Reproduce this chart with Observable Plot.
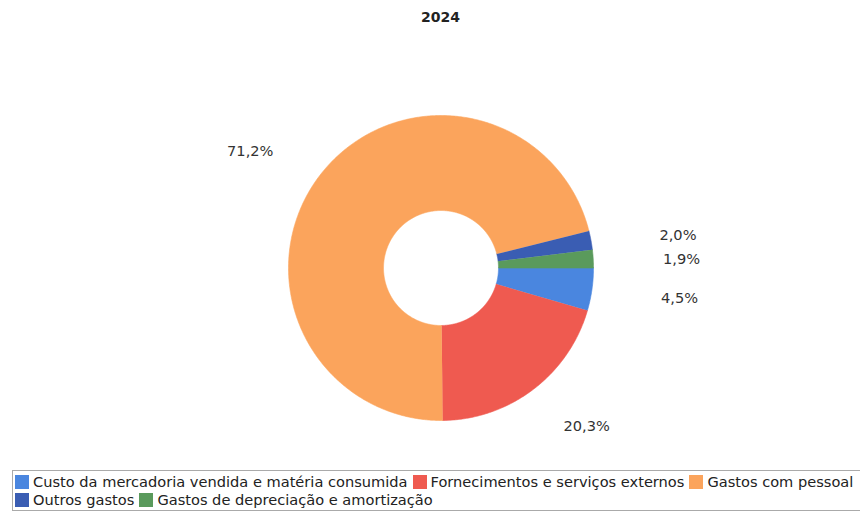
<!DOCTYPE html>
<html>
<head>
<meta charset="utf-8">
<script src="https://cdn.jsdelivr.net/npm/d3@7"></script>
<script src="https://cdn.jsdelivr.net/npm/@observablehq/plot@0.6"></script>
<style>
  html, body { margin: 0; padding: 0; background: #fff; overflow: hidden; width: 860px; height: 514px; }
  body { font-family: "DejaVu Sans", sans-serif; position: relative; }
  #title { position: absolute; left: 0; top: 0; width: 881px; height: 34px; line-height: 34px; text-align: center; font-weight: bold; font-size: 14px; color: #222; }
  #chart { position: absolute; left: 0; top: 34px; }
  #legend { position: absolute; left: 12px; top: 470px; width: 920px; border: 1px solid #aaa; padding: 2px 2px 1px 2px; display: flex; flex-wrap: wrap; font-size: 14.6px; color: #222; line-height: 18px; }
  .item { white-space: nowrap; margin-right: 5px; display: flex; align-items: center; }
  .sw { width: 14px; height: 14px; display: inline-block; margin-right: 4px; }
</style>
</head>
<body>
<div id="title"></div>
<div id="chart"></div>
<div id="legend"></div>
<script>
const title = "2024";
const categories = [
  "Custo da mercadoria vendida e matéria consumida",
  "Fornecimentos e serviços externos",
  "Gastos com pessoal",
  "Outros gastos",
  "Gastos de depreciação e amortização"
];
const values = [4.5, 20.3, 71.2, 2.0, 1.9];
const colors = ["#4a86df", "#ef5a50", "#fba45c", "#3a5db3", "#5a9a5c"];

const innerRatio = 0.377;
const labelRx = 1.58, labelRy = 1.28;
const total = d3.sum(values);

const arcPts = [];
const labels = [];
let cum = 0;
categories.forEach((cat, i) => {
  const a0 = 2 * Math.PI * cum / total;
  cum += values[i];
  const a1 = 2 * Math.PI * cum / total;
  const n = Math.max(2, Math.ceil((a1 - a0) / (Math.PI / 360)));
  for (let j = 0; j <= n; j++) {
    const a = a0 + (a1 - a0) * j / n;
    arcPts.push({cat, x: Math.cos(a), y: Math.sin(a)});
  }
  for (let j = n; j >= 0; j--) {
    const a = a0 + (a1 - a0) * j / n;
    arcPts.push({cat, x: innerRatio * Math.cos(a), y: innerRatio * Math.sin(a)});
  }
  const am = (a0 + a1) / 2;
  labels.push({cat, x: labelRx * Math.cos(am), y: labelRy * Math.sin(am),
    text: values[i].toFixed(1).replace(".", ",") + "%"});
});

document.getElementById("title").textContent = title;

const chart = Plot.plot({
  width: 860,
  height: 432,
  margin: 0,
  style: {fontFamily: "DejaVu Sans", fontSize: "14px", background: "white"},
  x: {domain: [-1, 1], range: [288, 593], axis: null},
  y: {domain: [-1, 1], range: [81, 386], axis: null},
  color: {domain: categories, range: colors},
  marks: [
    Plot.line(arcPts, {x: "x", y: "y", z: "cat", fill: "cat", stroke: "cat", strokeWidth: 0.6}),
    Plot.text(labels, {x: "x", y: "y", text: "text", fontSize: 14.6, dy: 2.5, fill: "#333"})
  ]
});
document.getElementById("chart").appendChild(chart);

const legend = document.getElementById("legend");
categories.forEach((cat, i) => {
  const it = document.createElement("div");
  it.className = "item";
  const sw = document.createElement("span");
  sw.className = "sw";
  sw.style.background = colors[i];
  it.appendChild(sw);
  it.appendChild(document.createTextNode(cat));
  legend.appendChild(it);
});
</script>
</body>
</html>
